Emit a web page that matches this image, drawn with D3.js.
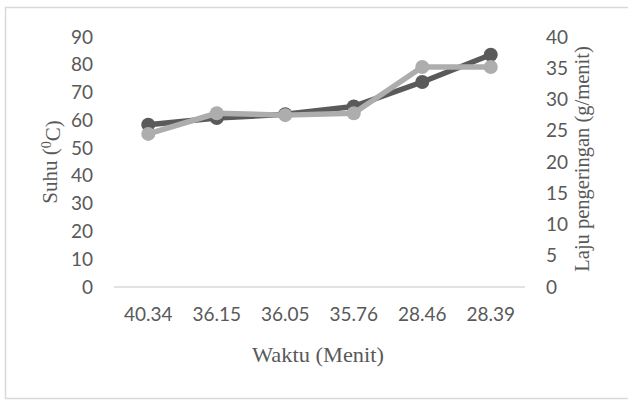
<!DOCTYPE html>
<html>
<head>
<meta charset="utf-8">
<script src="https://cdn.jsdelivr.net/npm/d3@7"></script>
<style>
  html, body { margin: 0; padding: 0; background: #fff; }
  svg { display: block; }
</style>
</head>
<body>
<svg id="chart" width="628" height="400"></svg>
<script>
// Drying time per run (x categories)
const waktu = ["40.34", "36.15", "36.05", "35.76", "28.46", "28.39"];
// Temperature (°C), left axis
const suhu = [58.4, 60.8, 62.2, 65.0, 73.8, 83.6];
// Drying rate (g/menit), right axis
const laju = [24.5, 27.8, 27.5, 27.8, 35.2, 35.2];
// Axis ticks
const suhuTicks = [0, 10, 20, 30, 40, 50, 60, 70, 80, 90];
const lajuTicks = [0, 5, 10, 15, 20, 25, 30, 35, 40];

const svg = d3.select("#chart");
const W = 628, H = 400;
const plot = { left: 114, right: 525, top: 37, bottom: 287 };
const textColor = "#595959";
const tickFont = "Lato, 'Open Sans', sans-serif";
const titleFont = "'Liberation Serif', 'DejaVu Serif', serif";

// Chart frame
svg.append("rect")
  .attr("x", 5.5).attr("y", 7.5)
  .attr("width", W + 10).attr("height", 391)
  .attr("fill", "#fff")
  .attr("stroke", "#d9d9d9").attr("stroke-width", 1.5);

const x = d3.scaleBand().domain(waktu).range([plot.left, plot.right]);
const yL = d3.scaleLinear().domain([0, 90]).range([plot.bottom, plot.top]);
const yR = d3.scaleLinear().domain([0, 40]).range([plot.bottom, plot.top]);

// Baseline
svg.append("line")
  .attr("x1", plot.left).attr("x2", plot.right)
  .attr("y1", yL(0)).attr("y2", yL(0))
  .attr("stroke", "#d9d9d9").attr("stroke-width", 1.5);

function styleAxis(g) {
  g.select(".domain").remove();
  g.selectAll(".tick line").remove();
  g.selectAll("text")
    .attr("fill", textColor)
    .style("font-family", tickFont)
    .style("font-size", "19px");
}

// Left axis (Suhu)
svg.append("g")
  .attr("transform", `translate(${plot.left - 21},0)`)
  .call(d3.axisLeft(yL).tickValues(suhuTicks).tickSize(0).tickPadding(0))
  .call(styleAxis);

// Right axis (Laju pengeringan)
svg.append("g")
  .attr("transform", `translate(${plot.right + 21},0)`)
  .call(d3.axisRight(yR).tickValues(lajuTicks).tickSize(0).tickPadding(0))
  .call(styleAxis);

// Category axis
svg.append("g")
  .attr("transform", `translate(0,${plot.bottom + 20})`)
  .call(d3.axisBottom(x).tickSize(0).tickPadding(0))
  .call(styleAxis)
  .selectAll("text").attr("dy", "0.71em").attr("y", 0);

// Axis titles
svg.append("text")
  .attr("x", 318).attr("y", 362)
  .attr("text-anchor", "middle")
  .attr("fill", textColor)
  .attr("textLength", 132)
  .attr("lengthAdjust", "spacingAndGlyphs")
  .style("font-family", titleFont)
  .style("font-size", "22px")
  .text("Waktu (Menit)");

const suhuTitle = svg.append("text")
  .attr("transform", "translate(57,162) rotate(-90)")
  .attr("text-anchor", "middle")
  .attr("fill", textColor)
  .style("font-family", titleFont)
  .style("font-size", "21px");
suhuTitle.append("tspan").text("Suhu (");
suhuTitle.append("tspan").attr("dy", "-0.4em").style("font-size", "14px").text("0");
suhuTitle.append("tspan").attr("dy", "0.4em").text("C)");

svg.append("text")
  .attr("transform", "translate(589,159) rotate(-90)")
  .attr("text-anchor", "middle")
  .attr("fill", textColor)
  .style("font-family", titleFont)
  .style("font-size", "20.5px")
  .text("Laju pengeringan (g/menit)");

// Series
const cx = d => x(d) + x.bandwidth() / 2;
const series = [
  { values: suhu, y: yL, color: "#5a5a5a" },
  { values: laju, y: yR, color: "#adadad" }
];

series.forEach(s => {
  const pts = waktu.map((w, i) => [cx(w), s.y(s.values[i])]);
  svg.append("path")
    .attr("d", d3.line()(pts))
    .attr("fill", "none")
    .attr("stroke", s.color)
    .attr("stroke-width", 5.5)
    .attr("stroke-linejoin", "round");
  svg.append("g").selectAll("circle")
    .data(pts).join("circle")
    .attr("cx", d => d[0]).attr("cy", d => d[1])
    .attr("r", 7)
    .attr("fill", s.color);
});
</script>
</body>
</html>
